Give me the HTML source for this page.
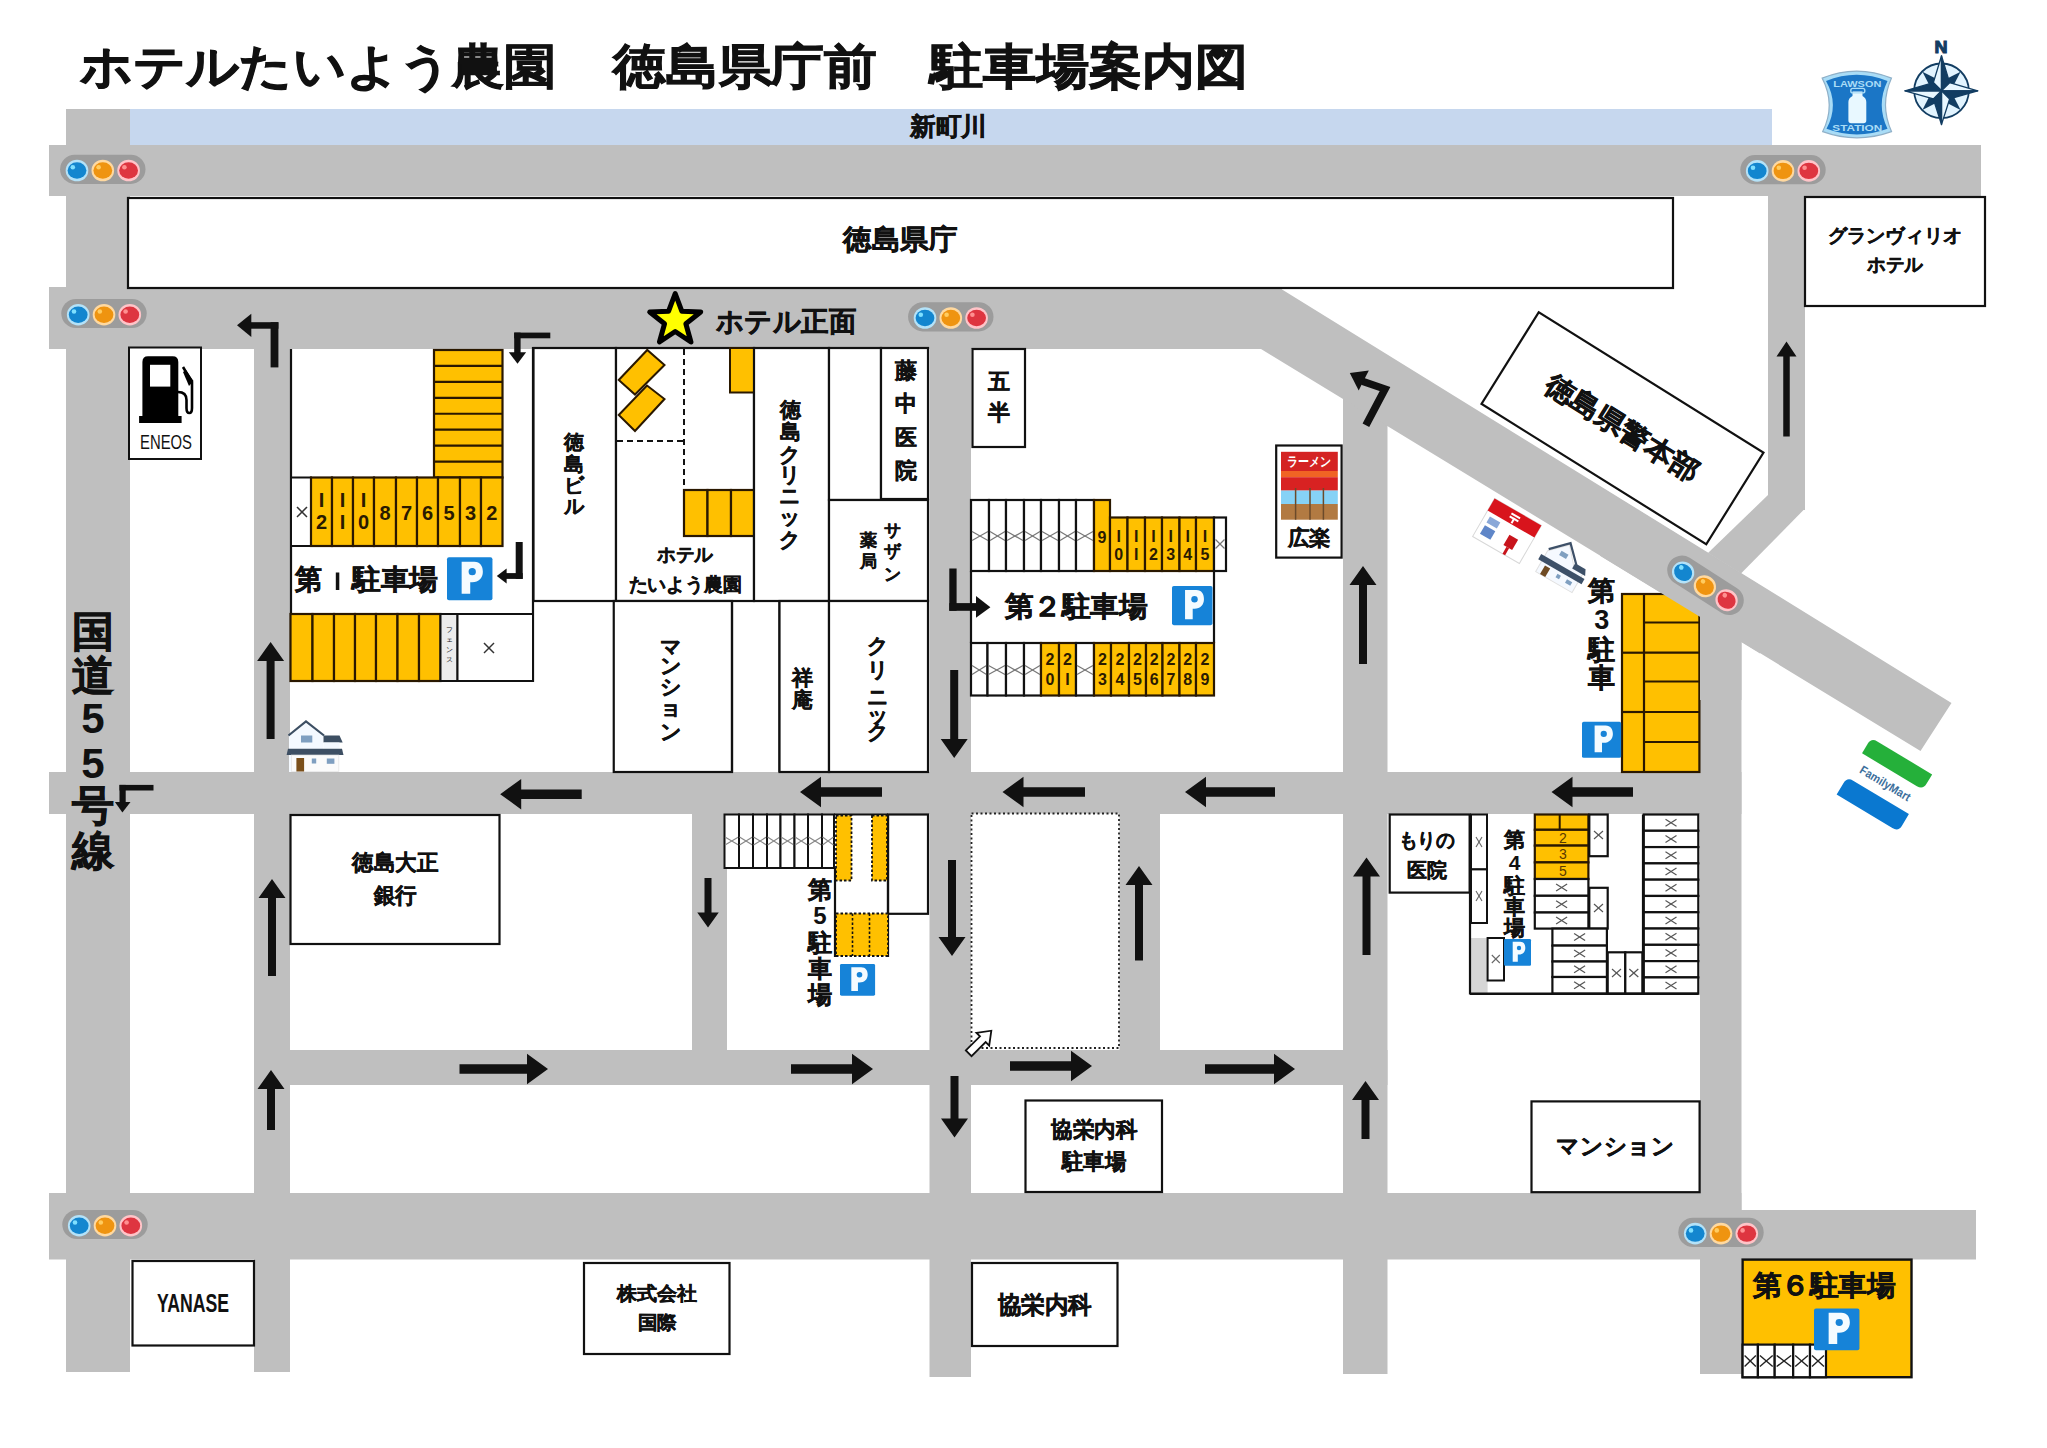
<!DOCTYPE html><html lang="ja"><head><meta charset="utf-8"><title>map</title><style>html,body{margin:0;padding:0;background:#fff;}svg{display:block;}text{font-family:"Liberation Sans",sans-serif;}</style></head><body>
<svg width="2047" height="1448" viewBox="0 0 2047 1448">
<rect x="0" y="0" width="2047" height="1448" fill="#fff" />
<rect x="130" y="109" width="1642" height="36" fill="#c6d7ee" />
<text x="948.5" y="126" font-size="25" text-anchor="middle" dominant-baseline="central" font-weight="bold" fill="#111" font-family="'Liberation Sans', sans-serif" textLength="77" lengthAdjust="spacingAndGlyphs" stroke="#111" stroke-width="0.5" >新町川</text>
<rect x="66" y="109" width="64" height="1263" fill="#bfbfbf" />
<rect x="254" y="349" width="36" height="1023" fill="#bfbfbf" />
<rect x="692" y="813" width="35" height="238" fill="#bfbfbf" />
<rect x="929.5" y="349" width="41.5" height="1028" fill="#bfbfbf" />
<rect x="1119.5" y="813" width="40.5" height="238" fill="#bfbfbf" />
<rect x="1343" y="380" width="44.5" height="994" fill="#bfbfbf" />
<rect x="1700" y="620" width="41.5" height="754" fill="#bfbfbf" />
<rect x="1768" y="180" width="37" height="330" fill="#bfbfbf" />
<rect x="49" y="145" width="1932" height="51" fill="#bfbfbf" />
<rect x="49" y="287" width="1233" height="62" fill="#bfbfbf" />
<rect x="49" y="772" width="1692.5" height="42" fill="#bfbfbf" />
<rect x="254" y="1050" width="1133.5" height="35" fill="#bfbfbf" />
<rect x="49" y="1193" width="1692.5" height="66.5" fill="#bfbfbf" />
<rect x="1741" y="1210" width="235" height="49.5" fill="#bfbfbf" />
<polygon points="1240,287 1278,287 1951.5,703 1920.5,751 1261,349 1240,349" fill="#bfbfbf" />
<polygon points="1768,495 1805,495 1805,508.5 1741,573.5 1708,553" fill="#bfbfbf" />
<text x="80" y="66" font-size="48" text-anchor="start" dominant-baseline="central" font-weight="bold" fill="#111" font-family="'Liberation Sans', sans-serif" textLength="476" lengthAdjust="spacingAndGlyphs" stroke="#111" stroke-width="0.9">ホテルたいよう農園</text>
<text x="613" y="66" font-size="48" text-anchor="start" dominant-baseline="central" font-weight="bold" fill="#111" font-family="'Liberation Sans', sans-serif" textLength="264" lengthAdjust="spacingAndGlyphs" stroke="#111" stroke-width="0.9">徳島県庁前</text>
<text x="930" y="66" font-size="48" text-anchor="start" dominant-baseline="central" font-weight="bold" fill="#111" font-family="'Liberation Sans', sans-serif" textLength="318" lengthAdjust="spacingAndGlyphs" stroke="#111" stroke-width="0.9">駐車場案内図</text>
<rect x="128" y="198" width="1545" height="90" fill="#fff" stroke="#111" stroke-width="2.2" />
<text x="900" y="239.5" font-size="28" text-anchor="middle" dominant-baseline="central" font-weight="bold" fill="#111" font-family="'Liberation Sans', sans-serif" textLength="114" lengthAdjust="spacingAndGlyphs" stroke="#111" stroke-width="0.56" >徳島県庁</text>
<rect x="1805" y="197" width="180" height="109" fill="#fff" stroke="#111" stroke-width="2.2" />
<text x="1895" y="235.5" font-size="19" text-anchor="middle" dominant-baseline="central" font-weight="bold" fill="#111" font-family="'Liberation Sans', sans-serif" textLength="134" lengthAdjust="spacingAndGlyphs" stroke="#111" stroke-width="0.38" >グランヴィリオ</text>
<text x="1895" y="264.5" font-size="19" text-anchor="middle" dominant-baseline="central" font-weight="bold" fill="#111" font-family="'Liberation Sans', sans-serif" textLength="56" lengthAdjust="spacingAndGlyphs" stroke="#111" stroke-width="0.38" >ホテル</text>
<rect x="129" y="347.5" width="72" height="111.5" fill="#fff" stroke="#111" stroke-width="2" />
<path d="M142.4,417 V362 Q142.4,356.3 148,356.3 H172.7 Q178.3,356.3 178.3,362 V417 Z" fill="#000"/>
<rect x="150" y="364.8" width="20.3" height="21.8" fill="#fff" />
<rect x="139.1" y="416" width="42.5" height="7" fill="#000" />
<path d="M178,392 Q186.5,392 186.5,400 V408 Q186.5,413 189.3,413 Q192,413 192,408 V382 L183,367" fill="none" stroke="#000" stroke-width="2.6"/>
<path d="M189,386 L193.5,381 L186,370 L183,372 Z" fill="#000"/>
<text x="166" y="441" font-size="21" text-anchor="middle" dominant-baseline="central" font-weight="normal" fill="#111" font-family="'Liberation Sans', sans-serif" textLength="52" lengthAdjust="spacingAndGlyphs" font-stretch="condensed">ENEOS</text>
<line x1="291" y1="349" x2="291" y2="682" stroke="#111" stroke-width="2.2" />
<line x1="533" y1="347" x2="533" y2="682" stroke="#111" stroke-width="2.2" />
<line x1="290" y1="681" x2="534" y2="681" stroke="#111" stroke-width="2.2" />
<line x1="290" y1="614" x2="534" y2="614" stroke="#111" stroke-width="2.2" />
<rect x="434" y="350" width="68.5" height="127.5" fill="#ffc000" stroke="#2a1800" stroke-width="2.2" />
<line x1="434" y1="365.94" x2="502.5" y2="365.94" stroke="#2a1800" stroke-width="2.2" />
<line x1="434" y1="381.88" x2="502.5" y2="381.88" stroke="#2a1800" stroke-width="2.2" />
<line x1="434" y1="397.81" x2="502.5" y2="397.81" stroke="#2a1800" stroke-width="2.2" />
<line x1="434" y1="413.75" x2="502.5" y2="413.75" stroke="#2a1800" stroke-width="2.2" />
<line x1="434" y1="429.69" x2="502.5" y2="429.69" stroke="#2a1800" stroke-width="2.2" />
<line x1="434" y1="445.62" x2="502.5" y2="445.62" stroke="#2a1800" stroke-width="2.2" />
<line x1="434" y1="461.56" x2="502.5" y2="461.56" stroke="#2a1800" stroke-width="2.2" />
<rect x="291" y="477.5" width="20" height="68.5" fill="#fff" stroke="#111" stroke-width="2" />
<line x1="297" y1="507" x2="307" y2="517" stroke="#333" stroke-width="1.5" />
<line x1="297" y1="517" x2="307" y2="507" stroke="#333" stroke-width="1.5" />
<rect x="311" y="477.5" width="21" height="68.5" fill="#ffc000" stroke="#2a1800" stroke-width="2.2" />
<text x="321.5" y="500" font-size="20" text-anchor="middle" dominant-baseline="central" font-weight="bold" fill="#2a1a00" font-family="'Liberation Sans', sans-serif" >I</text>
<text x="321.5" y="522" font-size="20" text-anchor="middle" dominant-baseline="central" font-weight="bold" fill="#2a1a00" font-family="'Liberation Sans', sans-serif" >2</text>
<rect x="332" y="477.5" width="21" height="68.5" fill="#ffc000" stroke="#2a1800" stroke-width="2.2" />
<text x="342.5" y="500" font-size="20" text-anchor="middle" dominant-baseline="central" font-weight="bold" fill="#2a1a00" font-family="'Liberation Sans', sans-serif" >I</text>
<text x="342.5" y="522" font-size="20" text-anchor="middle" dominant-baseline="central" font-weight="bold" fill="#2a1a00" font-family="'Liberation Sans', sans-serif" >I</text>
<rect x="353" y="477.5" width="21" height="68.5" fill="#ffc000" stroke="#2a1800" stroke-width="2.2" />
<text x="363.5" y="500" font-size="20" text-anchor="middle" dominant-baseline="central" font-weight="bold" fill="#2a1a00" font-family="'Liberation Sans', sans-serif" >I</text>
<text x="363.5" y="522" font-size="20" text-anchor="middle" dominant-baseline="central" font-weight="bold" fill="#2a1a00" font-family="'Liberation Sans', sans-serif" >0</text>
<rect x="374" y="477.5" width="22" height="68.5" fill="#ffc000" stroke="#2a1800" stroke-width="2.2" />
<text x="385" y="512.5" font-size="20" text-anchor="middle" dominant-baseline="central" font-weight="bold" fill="#2a1a00" font-family="'Liberation Sans', sans-serif" >8</text>
<rect x="396" y="477.5" width="21" height="68.5" fill="#ffc000" stroke="#2a1800" stroke-width="2.2" />
<text x="406.5" y="512.5" font-size="20" text-anchor="middle" dominant-baseline="central" font-weight="bold" fill="#2a1a00" font-family="'Liberation Sans', sans-serif" >7</text>
<rect x="417" y="477.5" width="21" height="68.5" fill="#ffc000" stroke="#2a1800" stroke-width="2.2" />
<text x="427.5" y="512.5" font-size="20" text-anchor="middle" dominant-baseline="central" font-weight="bold" fill="#2a1a00" font-family="'Liberation Sans', sans-serif" >6</text>
<rect x="438" y="477.5" width="22" height="68.5" fill="#ffc000" stroke="#2a1800" stroke-width="2.2" />
<text x="449" y="512.5" font-size="20" text-anchor="middle" dominant-baseline="central" font-weight="bold" fill="#2a1a00" font-family="'Liberation Sans', sans-serif" >5</text>
<rect x="460" y="477.5" width="21" height="68.5" fill="#ffc000" stroke="#2a1800" stroke-width="2.2" />
<text x="470.5" y="512.5" font-size="20" text-anchor="middle" dominant-baseline="central" font-weight="bold" fill="#2a1a00" font-family="'Liberation Sans', sans-serif" >3</text>
<rect x="481" y="477.5" width="21.5" height="68.5" fill="#ffc000" stroke="#2a1800" stroke-width="2.2" />
<text x="491.75" y="512.5" font-size="20" text-anchor="middle" dominant-baseline="central" font-weight="bold" fill="#2a1a00" font-family="'Liberation Sans', sans-serif" >2</text>
<text x="308.5" y="579" font-size="28" text-anchor="middle" dominant-baseline="central" font-weight="bold" fill="#111" font-family="'Liberation Sans', sans-serif" textLength="27" lengthAdjust="spacingAndGlyphs" stroke="#111" stroke-width="0.56" >第</text>
<rect x="335.8" y="572.5" width="3.5" height="17.5" fill="#111" />
<text x="395" y="579" font-size="28" text-anchor="middle" dominant-baseline="central" font-weight="bold" fill="#111" font-family="'Liberation Sans', sans-serif" textLength="86" lengthAdjust="spacingAndGlyphs" stroke="#111" stroke-width="0.56" >駐車場</text>
<g transform="translate(447,557.2) scale(1.01,1)"><rect x="0" y="0" width="45" height="43" rx="2" fill="#1683d8"/><path d="M14.5,4.5 H27 C33,4.5 35.5,9 35.5,14.5 C35.5,20.5 31.5,25 25,25 H23 V36.5 H14.5 Z" fill="#f4fbff"/><circle cx="25" cy="14.5" r="3.6" fill="#1683d8"/></g>
<rect x="290.5" y="614" width="22" height="67" fill="#ffc000" stroke="#2a1800" stroke-width="2.2" />
<rect x="312.5" y="614" width="21.5" height="67" fill="#ffc000" stroke="#2a1800" stroke-width="2.2" />
<rect x="334" y="614" width="21" height="67" fill="#ffc000" stroke="#2a1800" stroke-width="2.2" />
<rect x="355" y="614" width="21" height="67" fill="#ffc000" stroke="#2a1800" stroke-width="2.2" />
<rect x="376" y="614" width="21.5" height="67" fill="#ffc000" stroke="#2a1800" stroke-width="2.2" />
<rect x="397.5" y="614" width="21.5" height="67" fill="#ffc000" stroke="#2a1800" stroke-width="2.2" />
<rect x="419" y="614" width="21.5" height="67" fill="#ffc000" stroke="#2a1800" stroke-width="2.2" />
<rect x="440.5" y="614" width="17" height="67" fill="#ececec" stroke="#111" stroke-width="2" />
<text x="449" y="629" font-size="7" text-anchor="middle" dominant-baseline="central" font-weight="normal" fill="#111" font-family="'Liberation Sans', sans-serif" >フ</text>
<text x="449" y="639" font-size="7" text-anchor="middle" dominant-baseline="central" font-weight="normal" fill="#111" font-family="'Liberation Sans', sans-serif" >ェ</text>
<text x="449" y="649" font-size="7" text-anchor="middle" dominant-baseline="central" font-weight="normal" fill="#111" font-family="'Liberation Sans', sans-serif" >ン</text>
<text x="449" y="659" font-size="7" text-anchor="middle" dominant-baseline="central" font-weight="normal" fill="#111" font-family="'Liberation Sans', sans-serif" >ス</text>
<rect x="457.5" y="614" width="75.5" height="67" fill="#fff" stroke="#111" stroke-width="2" />
<line x1="484" y1="643" x2="494" y2="653" stroke="#333" stroke-width="1.5" />
<line x1="484" y1="653" x2="494" y2="643" stroke="#333" stroke-width="1.5" />
<rect x="533.5" y="348" width="82.5" height="253" fill="#fff" stroke="#111" stroke-width="2.2" />
<text x="574" y="442" font-size="20" text-anchor="middle" dominant-baseline="central" font-weight="bold" fill="#111" font-family="'Liberation Sans', sans-serif" stroke="#111" stroke-width="0.4" >徳</text>
<text x="574" y="464" font-size="20" text-anchor="middle" dominant-baseline="central" font-weight="bold" fill="#111" font-family="'Liberation Sans', sans-serif" stroke="#111" stroke-width="0.4" >島</text>
<text x="574" y="485" font-size="20" text-anchor="middle" dominant-baseline="central" font-weight="bold" fill="#111" font-family="'Liberation Sans', sans-serif" stroke="#111" stroke-width="0.4" >ビ</text>
<text x="574" y="505.5" font-size="20" text-anchor="middle" dominant-baseline="central" font-weight="bold" fill="#111" font-family="'Liberation Sans', sans-serif" stroke="#111" stroke-width="0.4" >ル</text>
<rect x="616" y="348" width="138" height="253" fill="#fff" stroke="#111" stroke-width="2.2" />
<polygon points="618.75,380 647.25,350 664.5,365 635,394.5" fill="#ffc000" stroke="#2a1800" stroke-width="2" />
<polygon points="618.75,415 647,385.5 664.5,399 635,431" fill="#ffc000" stroke="#2a1800" stroke-width="2" />
<line x1="684" y1="349" x2="684" y2="490" stroke="#111" stroke-width="2" stroke-dasharray="6,4"/>
<line x1="617" y1="441" x2="684" y2="441" stroke="#111" stroke-width="2" stroke-dasharray="6,4"/>
<rect x="730" y="348" width="24" height="44.5" fill="#ffc000" stroke="#2a1800" stroke-width="2" />
<rect x="684" y="490" width="23.5" height="46" fill="#ffc000" stroke="#2a1800" stroke-width="2.2" />
<rect x="707.5" y="490" width="23.5" height="46" fill="#ffc000" stroke="#2a1800" stroke-width="2.2" />
<rect x="731" y="490" width="23" height="46" fill="#ffc000" stroke="#2a1800" stroke-width="2.2" />
<text x="685" y="554" font-size="19" text-anchor="middle" dominant-baseline="central" font-weight="bold" fill="#111" font-family="'Liberation Sans', sans-serif" textLength="56" lengthAdjust="spacingAndGlyphs" stroke="#111" stroke-width="0.38" >ホテル</text>
<text x="685" y="584" font-size="19" text-anchor="middle" dominant-baseline="central" font-weight="bold" fill="#111" font-family="'Liberation Sans', sans-serif" textLength="113" lengthAdjust="spacingAndGlyphs" stroke="#111" stroke-width="0.38" >たいよう農園</text>
<rect x="754" y="348" width="75" height="253" fill="#fff" stroke="#111" stroke-width="2.2" />
<text x="790" y="409.5" font-size="21" text-anchor="middle" dominant-baseline="central" font-weight="bold" fill="#111" font-family="'Liberation Sans', sans-serif" stroke="#111" stroke-width="0.42" >徳</text>
<text x="790" y="431" font-size="21" text-anchor="middle" dominant-baseline="central" font-weight="bold" fill="#111" font-family="'Liberation Sans', sans-serif" stroke="#111" stroke-width="0.42" >島</text>
<text x="790" y="454" font-size="21" text-anchor="middle" dominant-baseline="central" font-weight="bold" fill="#111" font-family="'Liberation Sans', sans-serif" stroke="#111" stroke-width="0.42" >ク</text>
<text x="790" y="474" font-size="21" text-anchor="middle" dominant-baseline="central" font-weight="bold" fill="#111" font-family="'Liberation Sans', sans-serif" stroke="#111" stroke-width="0.42" >リ</text>
<text x="790" y="495.5" font-size="21" text-anchor="middle" dominant-baseline="central" font-weight="bold" fill="#111" font-family="'Liberation Sans', sans-serif" stroke="#111" stroke-width="0.42" >ニ</text>
<text x="790" y="516" font-size="21" text-anchor="middle" dominant-baseline="central" font-weight="bold" fill="#111" font-family="'Liberation Sans', sans-serif" stroke="#111" stroke-width="0.42" >ッ</text>
<text x="790" y="539.5" font-size="21" text-anchor="middle" dominant-baseline="central" font-weight="bold" fill="#111" font-family="'Liberation Sans', sans-serif" stroke="#111" stroke-width="0.42" >ク</text>
<rect x="829" y="348" width="52" height="152" fill="#fff" stroke="#111" stroke-width="2.2" />
<rect x="881" y="348" width="47" height="151" fill="#fff" stroke="#111" stroke-width="2.2" />
<text x="905.5" y="370.5" font-size="22" text-anchor="middle" dominant-baseline="central" font-weight="bold" fill="#111" font-family="'Liberation Sans', sans-serif" stroke="#111" stroke-width="0.44" >藤</text>
<text x="905.5" y="403" font-size="22" text-anchor="middle" dominant-baseline="central" font-weight="bold" fill="#111" font-family="'Liberation Sans', sans-serif" stroke="#111" stroke-width="0.44" >中</text>
<text x="905.5" y="437" font-size="22" text-anchor="middle" dominant-baseline="central" font-weight="bold" fill="#111" font-family="'Liberation Sans', sans-serif" stroke="#111" stroke-width="0.44" >医</text>
<text x="905.5" y="470" font-size="22" text-anchor="middle" dominant-baseline="central" font-weight="bold" fill="#111" font-family="'Liberation Sans', sans-serif" stroke="#111" stroke-width="0.44" >院</text>
<rect x="829" y="500" width="99" height="101" fill="#fff" stroke="#111" stroke-width="2.2" />
<text x="892" y="530" font-size="17" text-anchor="middle" dominant-baseline="central" font-weight="bold" fill="#111" font-family="'Liberation Sans', sans-serif" stroke="#111" stroke-width="0.34" >サ</text>
<text x="892" y="551" font-size="17" text-anchor="middle" dominant-baseline="central" font-weight="bold" fill="#111" font-family="'Liberation Sans', sans-serif" stroke="#111" stroke-width="0.34" >ザ</text>
<text x="892" y="574" font-size="17" text-anchor="middle" dominant-baseline="central" font-weight="bold" fill="#111" font-family="'Liberation Sans', sans-serif" stroke="#111" stroke-width="0.34" >ン</text>
<text x="868" y="540.6" font-size="17" text-anchor="middle" dominant-baseline="central" font-weight="bold" fill="#111" font-family="'Liberation Sans', sans-serif" stroke="#111" stroke-width="0.34" >薬</text>
<text x="868" y="561" font-size="17" text-anchor="middle" dominant-baseline="central" font-weight="bold" fill="#111" font-family="'Liberation Sans', sans-serif" stroke="#111" stroke-width="0.34" >局</text>
<line x1="533" y1="601" x2="929" y2="601" stroke="#111" stroke-width="2.2" />
<rect x="613.75" y="601" width="118.25" height="171" fill="#fff" stroke="#111" stroke-width="2.2" />
<text x="671" y="646" font-size="21" text-anchor="middle" dominant-baseline="central" font-weight="bold" fill="#111" font-family="'Liberation Sans', sans-serif" stroke="#111" stroke-width="0.42" >マ</text>
<text x="671" y="665" font-size="21" text-anchor="middle" dominant-baseline="central" font-weight="bold" fill="#111" font-family="'Liberation Sans', sans-serif" stroke="#111" stroke-width="0.42" >ン</text>
<text x="671" y="686" font-size="21" text-anchor="middle" dominant-baseline="central" font-weight="bold" fill="#111" font-family="'Liberation Sans', sans-serif" stroke="#111" stroke-width="0.42" >シ</text>
<text x="671" y="707.5" font-size="21" text-anchor="middle" dominant-baseline="central" font-weight="bold" fill="#111" font-family="'Liberation Sans', sans-serif" stroke="#111" stroke-width="0.42" >ョ</text>
<text x="671" y="731" font-size="21" text-anchor="middle" dominant-baseline="central" font-weight="bold" fill="#111" font-family="'Liberation Sans', sans-serif" stroke="#111" stroke-width="0.42" >ン</text>
<line x1="732" y1="601" x2="732" y2="772" stroke="#111" stroke-width="2.2" />
<line x1="779.5" y1="601" x2="779.5" y2="772" stroke="#111" stroke-width="2.2" />
<rect x="779.5" y="601" width="49.5" height="171" fill="#fff" stroke="#111" stroke-width="2.2" />
<text x="802.5" y="677" font-size="21" text-anchor="middle" dominant-baseline="central" font-weight="bold" fill="#111" font-family="'Liberation Sans', sans-serif" stroke="#111" stroke-width="0.42" >祥</text>
<text x="802.5" y="699.5" font-size="21" text-anchor="middle" dominant-baseline="central" font-weight="bold" fill="#111" font-family="'Liberation Sans', sans-serif" stroke="#111" stroke-width="0.42" >庵</text>
<rect x="829" y="601" width="99" height="171" fill="#fff" stroke="#111" stroke-width="2.2" />
<text x="877.5" y="645.5" font-size="21" text-anchor="middle" dominant-baseline="central" font-weight="bold" fill="#111" font-family="'Liberation Sans', sans-serif" stroke="#111" stroke-width="0.42" >ク</text>
<text x="877.5" y="669" font-size="21" text-anchor="middle" dominant-baseline="central" font-weight="bold" fill="#111" font-family="'Liberation Sans', sans-serif" stroke="#111" stroke-width="0.42" >リ</text>
<text x="877.5" y="696" font-size="21" text-anchor="middle" dominant-baseline="central" font-weight="bold" fill="#111" font-family="'Liberation Sans', sans-serif" stroke="#111" stroke-width="0.42" >ニ</text>
<text x="877.5" y="714" font-size="21" text-anchor="middle" dominant-baseline="central" font-weight="bold" fill="#111" font-family="'Liberation Sans', sans-serif" stroke="#111" stroke-width="0.42" >ッ</text>
<text x="877.5" y="731" font-size="21" text-anchor="middle" dominant-baseline="central" font-weight="bold" fill="#111" font-family="'Liberation Sans', sans-serif" stroke="#111" stroke-width="0.42" >ク</text>
<polygon points="675.2,293.5 681.78,311.24 700.69,312.02 685.85,323.76 690.95,341.98 675.2,331.5 659.45,341.98 664.55,323.76 649.71,312.02 668.62,311.24" fill="#ffff00" stroke="#000" stroke-width="5" stroke-linejoin="round"/>
<text x="786" y="321.5" font-size="28" text-anchor="middle" dominant-baseline="central" font-weight="bold" fill="#111" font-family="'Liberation Sans', sans-serif" textLength="140" lengthAdjust="spacingAndGlyphs" stroke="#111" stroke-width="0.56" >ホテル正面</text>
<rect x="972.5" y="349" width="52.5" height="98" fill="#fff" stroke="#111" stroke-width="2.2" />
<text x="999" y="381" font-size="22" text-anchor="middle" dominant-baseline="central" font-weight="bold" fill="#111" font-family="'Liberation Sans', sans-serif" stroke="#111" stroke-width="0.44" >五</text>
<text x="999" y="412.5" font-size="22" text-anchor="middle" dominant-baseline="central" font-weight="bold" fill="#111" font-family="'Liberation Sans', sans-serif" stroke="#111" stroke-width="0.44" >半</text>
<rect x="971" y="500" width="18" height="71" fill="#fff" stroke="#111" stroke-width="2.2" />
<line x1="972" y1="531.5" x2="988" y2="540.5" stroke="#777" stroke-width="1.2" />
<line x1="972" y1="540.5" x2="988" y2="531.5" stroke="#777" stroke-width="1.2" />
<rect x="989" y="500" width="17" height="71" fill="#fff" stroke="#111" stroke-width="2.2" />
<line x1="990" y1="531.5" x2="1005" y2="540.5" stroke="#777" stroke-width="1.2" />
<line x1="990" y1="540.5" x2="1005" y2="531.5" stroke="#777" stroke-width="1.2" />
<rect x="1006" y="500" width="18" height="71" fill="#fff" stroke="#111" stroke-width="2.2" />
<line x1="1007" y1="531.5" x2="1023" y2="540.5" stroke="#777" stroke-width="1.2" />
<line x1="1007" y1="540.5" x2="1023" y2="531.5" stroke="#777" stroke-width="1.2" />
<rect x="1024" y="500" width="17" height="71" fill="#fff" stroke="#111" stroke-width="2.2" />
<line x1="1025" y1="531.5" x2="1040" y2="540.5" stroke="#777" stroke-width="1.2" />
<line x1="1025" y1="540.5" x2="1040" y2="531.5" stroke="#777" stroke-width="1.2" />
<rect x="1041" y="500" width="18" height="71" fill="#fff" stroke="#111" stroke-width="2.2" />
<line x1="1042" y1="531.5" x2="1058" y2="540.5" stroke="#777" stroke-width="1.2" />
<line x1="1042" y1="540.5" x2="1058" y2="531.5" stroke="#777" stroke-width="1.2" />
<rect x="1059" y="500" width="17" height="71" fill="#fff" stroke="#111" stroke-width="2.2" />
<line x1="1060" y1="531.5" x2="1075" y2="540.5" stroke="#777" stroke-width="1.2" />
<line x1="1060" y1="540.5" x2="1075" y2="531.5" stroke="#777" stroke-width="1.2" />
<rect x="1076" y="500" width="18" height="71" fill="#fff" stroke="#111" stroke-width="2.2" />
<line x1="1077" y1="531.5" x2="1093" y2="540.5" stroke="#777" stroke-width="1.2" />
<line x1="1077" y1="540.5" x2="1093" y2="531.5" stroke="#777" stroke-width="1.2" />
<rect x="1094" y="500" width="16" height="71" fill="#ffc000" stroke="#2a1800" stroke-width="2.2" />
<text x="1102" y="537.5" font-size="16" text-anchor="middle" dominant-baseline="central" font-weight="bold" fill="#2a1a00" font-family="'Liberation Sans', sans-serif" >9</text>
<rect x="1110" y="517.5" width="17.5" height="53.5" fill="#ffc000" stroke="#2a1800" stroke-width="2.2" />
<text x="1118.75" y="536" font-size="16" text-anchor="middle" dominant-baseline="central" font-weight="bold" fill="#2a1a00" font-family="'Liberation Sans', sans-serif" >I</text>
<text x="1118.75" y="554" font-size="16" text-anchor="middle" dominant-baseline="central" font-weight="bold" fill="#2a1a00" font-family="'Liberation Sans', sans-serif" >0</text>
<rect x="1127.5" y="517.5" width="17.5" height="53.5" fill="#ffc000" stroke="#2a1800" stroke-width="2.2" />
<text x="1136.25" y="536" font-size="16" text-anchor="middle" dominant-baseline="central" font-weight="bold" fill="#2a1a00" font-family="'Liberation Sans', sans-serif" >I</text>
<text x="1136.25" y="554" font-size="16" text-anchor="middle" dominant-baseline="central" font-weight="bold" fill="#2a1a00" font-family="'Liberation Sans', sans-serif" >I</text>
<rect x="1145" y="517.5" width="17" height="53.5" fill="#ffc000" stroke="#2a1800" stroke-width="2.2" />
<text x="1153.5" y="536" font-size="16" text-anchor="middle" dominant-baseline="central" font-weight="bold" fill="#2a1a00" font-family="'Liberation Sans', sans-serif" >I</text>
<text x="1153.5" y="554" font-size="16" text-anchor="middle" dominant-baseline="central" font-weight="bold" fill="#2a1a00" font-family="'Liberation Sans', sans-serif" >2</text>
<rect x="1162" y="517.5" width="17.5" height="53.5" fill="#ffc000" stroke="#2a1800" stroke-width="2.2" />
<text x="1170.75" y="536" font-size="16" text-anchor="middle" dominant-baseline="central" font-weight="bold" fill="#2a1a00" font-family="'Liberation Sans', sans-serif" >I</text>
<text x="1170.75" y="554" font-size="16" text-anchor="middle" dominant-baseline="central" font-weight="bold" fill="#2a1a00" font-family="'Liberation Sans', sans-serif" >3</text>
<rect x="1179.5" y="517.5" width="16.5" height="53.5" fill="#ffc000" stroke="#2a1800" stroke-width="2.2" />
<text x="1187.75" y="536" font-size="16" text-anchor="middle" dominant-baseline="central" font-weight="bold" fill="#2a1a00" font-family="'Liberation Sans', sans-serif" >I</text>
<text x="1187.75" y="554" font-size="16" text-anchor="middle" dominant-baseline="central" font-weight="bold" fill="#2a1a00" font-family="'Liberation Sans', sans-serif" >4</text>
<rect x="1196" y="517.5" width="18" height="53.5" fill="#ffc000" stroke="#2a1800" stroke-width="2.2" />
<text x="1205" y="536" font-size="16" text-anchor="middle" dominant-baseline="central" font-weight="bold" fill="#2a1a00" font-family="'Liberation Sans', sans-serif" >I</text>
<text x="1205" y="554" font-size="16" text-anchor="middle" dominant-baseline="central" font-weight="bold" fill="#2a1a00" font-family="'Liberation Sans', sans-serif" >5</text>
<rect x="1214" y="517.5" width="12" height="53.5" fill="#fff" stroke="#111" stroke-width="2.2" />
<line x1="1215.5" y1="539.5" x2="1224.5" y2="548.5" stroke="#777" stroke-width="1.2" />
<line x1="1215.5" y1="548.5" x2="1224.5" y2="539.5" stroke="#777" stroke-width="1.2" />
<line x1="971" y1="571" x2="971" y2="643" stroke="#111" stroke-width="2.2" />
<line x1="1214" y1="571" x2="1214" y2="643" stroke="#111" stroke-width="2.2" />
<text x="1076" y="606" font-size="28" text-anchor="middle" dominant-baseline="central" font-weight="bold" fill="#111" font-family="'Liberation Sans', sans-serif" textLength="143" lengthAdjust="spacingAndGlyphs" stroke="#111" stroke-width="0.56" >第２駐車場</text>
<g transform="translate(1172,586) scale(0.9,0.91)"><rect x="0" y="0" width="45" height="43" rx="2" fill="#1683d8"/><path d="M14.5,4.5 H27 C33,4.5 35.5,9 35.5,14.5 C35.5,20.5 31.5,25 25,25 H23 V36.5 H14.5 Z" fill="#f4fbff"/><circle cx="25" cy="14.5" r="3.6" fill="#1683d8"/></g>
<rect x="971" y="643" width="16.5" height="52.5" fill="#fff" stroke="#111" stroke-width="2.2" />
<line x1="972" y1="665.5" x2="986.5" y2="674.5" stroke="#777" stroke-width="1.2" />
<line x1="972" y1="674.5" x2="986.5" y2="665.5" stroke="#777" stroke-width="1.2" />
<rect x="987.5" y="643" width="18.5" height="52.5" fill="#fff" stroke="#111" stroke-width="2.2" />
<line x1="988.5" y1="665.5" x2="1005" y2="674.5" stroke="#777" stroke-width="1.2" />
<line x1="988.5" y1="674.5" x2="1005" y2="665.5" stroke="#777" stroke-width="1.2" />
<rect x="1006" y="643" width="18" height="52.5" fill="#fff" stroke="#111" stroke-width="2.2" />
<line x1="1007" y1="665.5" x2="1023" y2="674.5" stroke="#777" stroke-width="1.2" />
<line x1="1007" y1="674.5" x2="1023" y2="665.5" stroke="#777" stroke-width="1.2" />
<rect x="1024" y="643" width="17" height="52.5" fill="#fff" stroke="#111" stroke-width="2.2" />
<line x1="1025" y1="665.5" x2="1040" y2="674.5" stroke="#777" stroke-width="1.2" />
<line x1="1025" y1="674.5" x2="1040" y2="665.5" stroke="#777" stroke-width="1.2" />
<rect x="1041" y="643" width="18" height="52.5" fill="#ffc000" stroke="#2a1800" stroke-width="2.2" />
<text x="1050" y="659" font-size="16" text-anchor="middle" dominant-baseline="central" font-weight="bold" fill="#2a1a00" font-family="'Liberation Sans', sans-serif" >2</text>
<text x="1050" y="679" font-size="16" text-anchor="middle" dominant-baseline="central" font-weight="bold" fill="#2a1a00" font-family="'Liberation Sans', sans-serif" >0</text>
<rect x="1059" y="643" width="17" height="52.5" fill="#ffc000" stroke="#2a1800" stroke-width="2.2" />
<text x="1067.5" y="659" font-size="16" text-anchor="middle" dominant-baseline="central" font-weight="bold" fill="#2a1a00" font-family="'Liberation Sans', sans-serif" >2</text>
<text x="1067.5" y="679" font-size="16" text-anchor="middle" dominant-baseline="central" font-weight="bold" fill="#2a1a00" font-family="'Liberation Sans', sans-serif" >I</text>
<rect x="1076" y="643" width="18" height="52.5" fill="#fff" stroke="#111" stroke-width="2.2" />
<line x1="1077" y1="665.5" x2="1093" y2="674.5" stroke="#777" stroke-width="1.2" />
<line x1="1077" y1="674.5" x2="1093" y2="665.5" stroke="#777" stroke-width="1.2" />
<rect x="1094" y="643" width="17" height="52.5" fill="#ffc000" stroke="#2a1800" stroke-width="2.2" />
<text x="1102.5" y="659" font-size="16" text-anchor="middle" dominant-baseline="central" font-weight="bold" fill="#2a1a00" font-family="'Liberation Sans', sans-serif" >2</text>
<text x="1102.5" y="679" font-size="16" text-anchor="middle" dominant-baseline="central" font-weight="bold" fill="#2a1a00" font-family="'Liberation Sans', sans-serif" >3</text>
<rect x="1111" y="643" width="18" height="52.5" fill="#ffc000" stroke="#2a1800" stroke-width="2.2" />
<text x="1120" y="659" font-size="16" text-anchor="middle" dominant-baseline="central" font-weight="bold" fill="#2a1a00" font-family="'Liberation Sans', sans-serif" >2</text>
<text x="1120" y="679" font-size="16" text-anchor="middle" dominant-baseline="central" font-weight="bold" fill="#2a1a00" font-family="'Liberation Sans', sans-serif" >4</text>
<rect x="1129" y="643" width="17" height="52.5" fill="#ffc000" stroke="#2a1800" stroke-width="2.2" />
<text x="1137.5" y="659" font-size="16" text-anchor="middle" dominant-baseline="central" font-weight="bold" fill="#2a1a00" font-family="'Liberation Sans', sans-serif" >2</text>
<text x="1137.5" y="679" font-size="16" text-anchor="middle" dominant-baseline="central" font-weight="bold" fill="#2a1a00" font-family="'Liberation Sans', sans-serif" >5</text>
<rect x="1146" y="643" width="16.5" height="52.5" fill="#ffc000" stroke="#2a1800" stroke-width="2.2" />
<text x="1154.25" y="659" font-size="16" text-anchor="middle" dominant-baseline="central" font-weight="bold" fill="#2a1a00" font-family="'Liberation Sans', sans-serif" >2</text>
<text x="1154.25" y="679" font-size="16" text-anchor="middle" dominant-baseline="central" font-weight="bold" fill="#2a1a00" font-family="'Liberation Sans', sans-serif" >6</text>
<rect x="1162.5" y="643" width="17" height="52.5" fill="#ffc000" stroke="#2a1800" stroke-width="2.2" />
<text x="1171" y="659" font-size="16" text-anchor="middle" dominant-baseline="central" font-weight="bold" fill="#2a1a00" font-family="'Liberation Sans', sans-serif" >2</text>
<text x="1171" y="679" font-size="16" text-anchor="middle" dominant-baseline="central" font-weight="bold" fill="#2a1a00" font-family="'Liberation Sans', sans-serif" >7</text>
<rect x="1179.5" y="643" width="16.5" height="52.5" fill="#ffc000" stroke="#2a1800" stroke-width="2.2" />
<text x="1187.75" y="659" font-size="16" text-anchor="middle" dominant-baseline="central" font-weight="bold" fill="#2a1a00" font-family="'Liberation Sans', sans-serif" >2</text>
<text x="1187.75" y="679" font-size="16" text-anchor="middle" dominant-baseline="central" font-weight="bold" fill="#2a1a00" font-family="'Liberation Sans', sans-serif" >8</text>
<rect x="1196" y="643" width="18" height="52.5" fill="#ffc000" stroke="#2a1800" stroke-width="2.2" />
<text x="1205" y="659" font-size="16" text-anchor="middle" dominant-baseline="central" font-weight="bold" fill="#2a1a00" font-family="'Liberation Sans', sans-serif" >2</text>
<text x="1205" y="679" font-size="16" text-anchor="middle" dominant-baseline="central" font-weight="bold" fill="#2a1a00" font-family="'Liberation Sans', sans-serif" >9</text>
<rect x="1276.2" y="445.5" width="65.4" height="112.1" fill="#fff" stroke="#111" stroke-width="2.2" />
<rect x="1281" y="451.8" width="56.8" height="19.2" fill="#d42323" />
<text x="1309" y="461.5" font-size="12.5" text-anchor="middle" dominant-baseline="central" font-weight="bold" fill="#fff" font-family="'Liberation Sans', sans-serif" textLength="44" lengthAdjust="spacingAndGlyphs" >ラーメン</text>
<rect x="1281" y="471" width="56.8" height="6.2" fill="#f06424" />
<rect x="1281" y="477.2" width="56.8" height="13.4" fill="#d82222" />
<rect x="1281" y="490.6" width="56.8" height="13.4" fill="#86d2f6" />
<rect x="1281" y="504" width="56.8" height="15.7" fill="#b27a42" />
<line x1="1295.6" y1="488" x2="1295.6" y2="519.7" stroke="#6b4a2a" stroke-width="1.5" />
<line x1="1310" y1="488" x2="1310" y2="519.7" stroke="#6b4a2a" stroke-width="1.5" />
<line x1="1323.4" y1="488" x2="1323.4" y2="519.7" stroke="#6b4a2a" stroke-width="1.5" />
<text x="1309" y="537" font-size="21" text-anchor="middle" dominant-baseline="central" font-weight="bold" fill="#111" font-family="'Liberation Sans', sans-serif" textLength="43" lengthAdjust="spacingAndGlyphs" stroke="#111" stroke-width="0.42" >広楽</text>
<g transform="translate(1622.5,428.3) rotate(32)">
<rect x="-132.5" y="-54" width="265" height="108" fill="#fff" stroke="#111" stroke-width="2.2" />
<text x="0" y="0" font-size="28" text-anchor="middle" dominant-baseline="central" font-weight="bold" fill="#111" font-family="'Liberation Sans', sans-serif" textLength="176" lengthAdjust="spacingAndGlyphs" stroke="#111" stroke-width="0.56" >徳島県警本部</text>
</g>
<rect x="1622" y="594" width="77.4" height="178" fill="#ffc000" stroke="#2a1800" stroke-width="2.2" />
<line x1="1644" y1="594" x2="1644" y2="772" stroke="#2a1800" stroke-width="2.2" />
<line x1="1644" y1="622.5" x2="1699.4" y2="622.5" stroke="#2a1800" stroke-width="2.2" />
<line x1="1644" y1="652.7" x2="1699.4" y2="652.7" stroke="#2a1800" stroke-width="2.2" />
<line x1="1644" y1="681.5" x2="1699.4" y2="681.5" stroke="#2a1800" stroke-width="2.2" />
<line x1="1644" y1="712" x2="1699.4" y2="712" stroke="#2a1800" stroke-width="2.2" />
<line x1="1644" y1="742" x2="1699.4" y2="742" stroke="#2a1800" stroke-width="2.2" />
<line x1="1622" y1="652.7" x2="1644" y2="652.7" stroke="#2a1800" stroke-width="2.2" />
<line x1="1622" y1="712" x2="1644" y2="712" stroke="#2a1800" stroke-width="2.2" />
<polygon points="1600,486.7 1760,585.4 1760,653.4 1600,555.8" fill="#bfbfbf" />
<rect x="1700" y="600" width="41.5" height="100" fill="#bfbfbf" />
<g transform="translate(1582,721.7) scale(0.87,0.84)"><rect x="0" y="0" width="45" height="43" rx="2" fill="#1683d8"/><path d="M14.5,4.5 H27 C33,4.5 35.5,9 35.5,14.5 C35.5,20.5 31.5,25 25,25 H23 V36.5 H14.5 Z" fill="#f4fbff"/><circle cx="25" cy="14.5" r="3.6" fill="#1683d8"/></g>
<text x="1601.7" y="591" font-size="27" text-anchor="middle" dominant-baseline="central" font-weight="bold" fill="#111" font-family="'Liberation Sans', sans-serif" stroke="#111" stroke-width="0.54" >第</text>
<text x="1601.7" y="620" font-size="27" text-anchor="middle" dominant-baseline="central" font-weight="bold" fill="#111" font-family="'Liberation Sans', sans-serif" >3</text>
<text x="1601.7" y="649.5" font-size="27" text-anchor="middle" dominant-baseline="central" font-weight="bold" fill="#111" font-family="'Liberation Sans', sans-serif" stroke="#111" stroke-width="0.54" >駐</text>
<text x="1601.7" y="678" font-size="27" text-anchor="middle" dominant-baseline="central" font-weight="bold" fill="#111" font-family="'Liberation Sans', sans-serif" stroke="#111" stroke-width="0.54" >車</text>
<g transform="translate(1507,531) rotate(30)"><rect x="-27" y="-22" width="54" height="44" fill="#fff" stroke="#d8d8d8" stroke-width="1"/><rect x="-27" y="-22" width="54" height="14" fill="#d8141c"/><rect x="-5" y="-18.5" width="10" height="2" fill="#fff"/><rect x="-5" y="-15" width="10" height="2" fill="#fff"/><rect x="-1" y="-15" width="2" height="6" fill="#fff"/><rect x="-22" y="-4" width="12" height="7" fill="#8aa8d8"/><rect x="-22" y="6" width="12" height="10" fill="#5f86c8"/><rect x="4" y="2" width="10" height="12" fill="#c8141c"/><rect x="7.5" y="14" width="3" height="8" fill="#c8141c"/></g>
<g transform="translate(1562,566) rotate(30)"><polygon points="-20,-6 -4,-22 10,-6 22,-6 22,18 -20,18" fill="#f5f9ff" stroke="#e0e0e0" stroke-width="1"/><polyline points="-20,-8 -4,-24 12,-8" fill="none" stroke="#3d5068" stroke-width="2.2"/><polygon points="10,-9 22,-9 25,-3 10,-3" fill="#3d5068"/><rect x="-24" y="0" width="50" height="6" fill="#3d5068"/><rect x="-8" y="-13" width="8" height="5" fill="#7f9fc0"/><rect x="-15" y="8" width="6" height="10" fill="#6e4a22"/><rect x="0" y="9" width="4" height="4" fill="#7f9fc0"/><rect x="11" y="9" width="6" height="4" fill="#7f9fc0"/></g>
<g><polygon points="289,736 306,722 323,736 323,772 289,772" fill="#f4f9ff"/><polyline points="288.5,735.5 306,721.5 324,735.5" fill="none" stroke="#3d4f63" stroke-width="2.2"/><polygon points="323.5,735.5 339.5,735.5 342.7,742.5 323.5,742.5" fill="#3d4f63"/><rect x="323.5" y="742.5" width="16" height="6" fill="#f4f9ff"/><rect x="301" y="735.5" width="11.3" height="7" fill="#7f9fc0"/><polygon points="288,748.7 342,748.7 343.5,755.1 286.6,755.1" fill="#3d4f63"/><rect x="291.5" y="755.1" width="47.3" height="16.5" fill="#fbfbfb" stroke="#e6e6e6" stroke-width="0.8"/><rect x="296.4" y="758" width="7.7" height="13.5" fill="#7a4f1a"/><rect x="311.8" y="758.5" width="4.4" height="5" fill="#7f9fc0"/><rect x="326.8" y="758.5" width="7.6" height="5.3" fill="#7f9fc0"/></g>
<rect x="290.5" y="815" width="209" height="129" fill="#fff" stroke="#111" stroke-width="2.2" />
<text x="395" y="862" font-size="22" text-anchor="middle" dominant-baseline="central" font-weight="bold" fill="#111" font-family="'Liberation Sans', sans-serif" textLength="86" lengthAdjust="spacingAndGlyphs" stroke="#111" stroke-width="0.44" >徳島大正</text>
<text x="395" y="895" font-size="22" text-anchor="middle" dominant-baseline="central" font-weight="bold" fill="#111" font-family="'Liberation Sans', sans-serif" textLength="43" lengthAdjust="spacingAndGlyphs" stroke="#111" stroke-width="0.44" >銀行</text>
<rect x="724.5" y="814.5" width="14.5" height="53.5" fill="#fff" stroke="#111" stroke-width="2" />
<line x1="725" y1="837" x2="738.5" y2="845" stroke="#888" stroke-width="1.1" />
<line x1="725" y1="845" x2="738.5" y2="837" stroke="#888" stroke-width="1.1" />
<rect x="739" y="814.5" width="14" height="53.5" fill="#fff" stroke="#111" stroke-width="2" />
<line x1="739.5" y1="837" x2="752.5" y2="845" stroke="#888" stroke-width="1.1" />
<line x1="739.5" y1="845" x2="752.5" y2="837" stroke="#888" stroke-width="1.1" />
<rect x="753" y="814.5" width="14" height="53.5" fill="#fff" stroke="#111" stroke-width="2" />
<line x1="753.5" y1="837" x2="766.5" y2="845" stroke="#888" stroke-width="1.1" />
<line x1="753.5" y1="845" x2="766.5" y2="837" stroke="#888" stroke-width="1.1" />
<rect x="767" y="814.5" width="13.5" height="53.5" fill="#fff" stroke="#111" stroke-width="2" />
<line x1="767.5" y1="837" x2="780" y2="845" stroke="#888" stroke-width="1.1" />
<line x1="767.5" y1="845" x2="780" y2="837" stroke="#888" stroke-width="1.1" />
<rect x="780.5" y="814.5" width="14" height="53.5" fill="#fff" stroke="#111" stroke-width="2" />
<line x1="781" y1="837" x2="794" y2="845" stroke="#888" stroke-width="1.1" />
<line x1="781" y1="845" x2="794" y2="837" stroke="#888" stroke-width="1.1" />
<rect x="794.5" y="814.5" width="13.5" height="53.5" fill="#fff" stroke="#111" stroke-width="2" />
<line x1="795" y1="837" x2="807.5" y2="845" stroke="#888" stroke-width="1.1" />
<line x1="795" y1="845" x2="807.5" y2="837" stroke="#888" stroke-width="1.1" />
<rect x="808" y="814.5" width="14" height="53.5" fill="#fff" stroke="#111" stroke-width="2" />
<line x1="808.5" y1="837" x2="821.5" y2="845" stroke="#888" stroke-width="1.1" />
<line x1="808.5" y1="845" x2="821.5" y2="837" stroke="#888" stroke-width="1.1" />
<rect x="822" y="814.5" width="12" height="53.5" fill="#fff" stroke="#111" stroke-width="2" />
<line x1="822.5" y1="837" x2="833.5" y2="845" stroke="#888" stroke-width="1.1" />
<line x1="822.5" y1="845" x2="833.5" y2="837" stroke="#888" stroke-width="1.1" />
<rect x="888" y="814.5" width="40" height="99.3" fill="#fff" stroke="#111" stroke-width="2.2" />
<line x1="834" y1="814.5" x2="888" y2="814.5" stroke="#111" stroke-width="2.2" />
<line x1="835" y1="868" x2="835" y2="957" stroke="#111" stroke-width="2.2" />
<line x1="888" y1="814.5" x2="888" y2="957" stroke="#111" stroke-width="2.2" />
<rect x="836" y="815.5" width="15.5" height="65" fill="#ffc000" stroke="#111" stroke-width="1.8" stroke-dasharray="2.5,2"/>
<rect x="872" y="815.5" width="15" height="65" fill="#ffc000" stroke="#111" stroke-width="1.8" stroke-dasharray="2.5,2"/>
<rect x="836" y="913.5" width="52" height="42.5" fill="#ffc000" stroke="#111" stroke-width="1.8" stroke-dasharray="2.5,2"/>
<line x1="852.5" y1="913.5" x2="852.5" y2="956" stroke="#111" stroke-width="1.6" stroke-dasharray="2.5,2"/>
<line x1="869.5" y1="913.5" x2="869.5" y2="956" stroke="#111" stroke-width="1.6" stroke-dasharray="2.5,2"/>
<text x="820" y="889" font-size="24" text-anchor="middle" dominant-baseline="central" font-weight="bold" fill="#111" font-family="'Liberation Sans', sans-serif" stroke="#111" stroke-width="0.48" >第</text>
<text x="820" y="915.5" font-size="24" text-anchor="middle" dominant-baseline="central" font-weight="bold" fill="#111" font-family="'Liberation Sans', sans-serif" >5</text>
<text x="820" y="942" font-size="24" text-anchor="middle" dominant-baseline="central" font-weight="bold" fill="#111" font-family="'Liberation Sans', sans-serif" stroke="#111" stroke-width="0.48" >駐</text>
<text x="820" y="968" font-size="24" text-anchor="middle" dominant-baseline="central" font-weight="bold" fill="#111" font-family="'Liberation Sans', sans-serif" stroke="#111" stroke-width="0.48" >車</text>
<text x="820" y="994.5" font-size="24" text-anchor="middle" dominant-baseline="central" font-weight="bold" fill="#111" font-family="'Liberation Sans', sans-serif" stroke="#111" stroke-width="0.48" >場</text>
<g transform="translate(840,964) scale(0.78,0.74)"><rect x="0" y="0" width="45" height="43" rx="2" fill="#1683d8"/><path d="M14.5,4.5 H27 C33,4.5 35.5,9 35.5,14.5 C35.5,20.5 31.5,25 25,25 H23 V36.5 H14.5 Z" fill="#f4fbff"/><circle cx="25" cy="14.5" r="3.6" fill="#1683d8"/></g>
<rect x="971.5" y="813.5" width="147.5" height="234.5" fill="#fff" stroke="#222" stroke-width="1.8" stroke-dasharray="2,2.5"/>
<g transform="translate(980,1042) rotate(-45)"><polygon points="-16,-4 4,-4 4,-9 16,0 4,9 4,4 -16,4" fill="#fff" stroke="#111" stroke-width="1.8" stroke-linejoin="miter"/></g>
<rect x="1389.7" y="814.5" width="80" height="78.1" fill="#fff" stroke="#111" stroke-width="2.2" />
<text x="1426.6" y="840.4" font-size="20" text-anchor="middle" dominant-baseline="central" font-weight="bold" fill="#111" font-family="'Liberation Sans', sans-serif" textLength="56" lengthAdjust="spacingAndGlyphs" stroke="#111" stroke-width="0.4" >もりの</text>
<text x="1426.6" y="870.3" font-size="20" text-anchor="middle" dominant-baseline="central" font-weight="bold" fill="#111" font-family="'Liberation Sans', sans-serif" textLength="40" lengthAdjust="spacingAndGlyphs" stroke="#111" stroke-width="0.4" >医院</text>
<rect x="1470.6" y="938" width="17" height="55.7" fill="#d6d6d6" />
<line x1="1470" y1="814.5" x2="1470" y2="994.5" stroke="#111" stroke-width="2.2" />
<rect x="1471" y="814.5" width="16" height="54.9" fill="#fff" stroke="#111" stroke-width="2" />
<line x1="1476" y1="837" x2="1482" y2="847" stroke="#666" stroke-width="1.1" />
<line x1="1476" y1="847" x2="1482" y2="837" stroke="#666" stroke-width="1.1" />
<rect x="1471" y="869.4" width="16" height="53.6" fill="#fff" stroke="#111" stroke-width="2" />
<line x1="1476" y1="891" x2="1482" y2="901" stroke="#666" stroke-width="1.1" />
<line x1="1476" y1="901" x2="1482" y2="891" stroke="#666" stroke-width="1.1" />
<rect x="1487.6" y="938" width="16.4" height="42.5" fill="#fff" stroke="#111" stroke-width="2" />
<line x1="1491.8" y1="955" x2="1499.8" y2="963" stroke="#666" stroke-width="1.1" />
<line x1="1491.8" y1="963" x2="1499.8" y2="955" stroke="#666" stroke-width="1.1" />
<text x="1514.5" y="839.5" font-size="21" text-anchor="middle" dominant-baseline="central" font-weight="bold" fill="#111" font-family="'Liberation Sans', sans-serif" stroke="#111" stroke-width="0.42" >第</text>
<text x="1514.5" y="862" font-size="21" text-anchor="middle" dominant-baseline="central" font-weight="bold" fill="#111" font-family="'Liberation Sans', sans-serif" >4</text>
<text x="1514.5" y="885" font-size="21" text-anchor="middle" dominant-baseline="central" font-weight="bold" fill="#111" font-family="'Liberation Sans', sans-serif" stroke="#111" stroke-width="0.42" >駐</text>
<text x="1514.5" y="906.8" font-size="21" text-anchor="middle" dominant-baseline="central" font-weight="bold" fill="#111" font-family="'Liberation Sans', sans-serif" stroke="#111" stroke-width="0.42" >車</text>
<text x="1514.5" y="927.4" font-size="21" text-anchor="middle" dominant-baseline="central" font-weight="bold" fill="#111" font-family="'Liberation Sans', sans-serif" stroke="#111" stroke-width="0.42" >場</text>
<g transform="translate(1504,939) scale(0.6,0.62)"><rect x="0" y="0" width="45" height="43" rx="2" fill="#1683d8"/><path d="M14.5,4.5 H27 C33,4.5 35.5,9 35.5,14.5 C35.5,20.5 31.5,25 25,25 H23 V36.5 H14.5 Z" fill="#f4fbff"/><circle cx="25" cy="14.5" r="3.6" fill="#1683d8"/></g>
<rect x="1534.8" y="814.5" width="53.6" height="15.3" fill="#ffc000" stroke="#2a1800" stroke-width="2.2" />
<rect x="1534.8" y="829.8" width="53.6" height="15.8" fill="#ffc000" stroke="#2a1800" stroke-width="2.2" />
<rect x="1534.8" y="845.6" width="53.6" height="16.8" fill="#ffc000" stroke="#2a1800" stroke-width="2.2" />
<rect x="1534.8" y="862.4" width="53.6" height="16.6" fill="#ffc000" stroke="#2a1800" stroke-width="2.2" />
<line x1="1559.7" y1="814.5" x2="1559.7" y2="829.8" stroke="#2a1800" stroke-width="2" />
<text x="1563" y="837.7" font-size="14" text-anchor="middle" dominant-baseline="central" font-weight="normal" fill="#5a3a00" font-family="'Liberation Sans', sans-serif" >2</text>
<text x="1563" y="854" font-size="14" text-anchor="middle" dominant-baseline="central" font-weight="normal" fill="#5a3a00" font-family="'Liberation Sans', sans-serif" >3</text>
<text x="1563" y="870.7" font-size="14" text-anchor="middle" dominant-baseline="central" font-weight="normal" fill="#5a3a00" font-family="'Liberation Sans', sans-serif" >5</text>
<rect x="1534.8" y="879" width="53.6" height="16.8" fill="#fff" stroke="#111" stroke-width="2.2" />
<line x1="1556.1" y1="883.9" x2="1567.1" y2="890.9" stroke="#555" stroke-width="1.2" />
<line x1="1556.1" y1="890.9" x2="1567.1" y2="883.9" stroke="#555" stroke-width="1.2" />
<rect x="1534.8" y="895.8" width="53.6" height="16.7" fill="#fff" stroke="#111" stroke-width="2.2" />
<line x1="1556.1" y1="900.65" x2="1567.1" y2="907.65" stroke="#555" stroke-width="1.2" />
<line x1="1556.1" y1="907.65" x2="1567.1" y2="900.65" stroke="#555" stroke-width="1.2" />
<rect x="1534.8" y="912.5" width="53.6" height="16.1" fill="#fff" stroke="#111" stroke-width="2.2" />
<line x1="1556.1" y1="917.05" x2="1567.1" y2="924.05" stroke="#555" stroke-width="1.2" />
<line x1="1556.1" y1="924.05" x2="1567.1" y2="917.05" stroke="#555" stroke-width="1.2" />
<rect x="1589.3" y="814.5" width="18.4" height="41.7" fill="#fff" stroke="#111" stroke-width="2.2" />
<line x1="1594" y1="831" x2="1603" y2="839" stroke="#555" stroke-width="1.2" />
<line x1="1594" y1="839" x2="1603" y2="831" stroke="#555" stroke-width="1.2" />
<rect x="1589.3" y="887.8" width="18.4" height="40.8" fill="#fff" stroke="#111" stroke-width="2.2" />
<line x1="1594" y1="904" x2="1603" y2="912" stroke="#555" stroke-width="1.2" />
<line x1="1594" y1="912" x2="1603" y2="904" stroke="#555" stroke-width="1.2" />
<rect x="1552.4" y="928.6" width="54.5" height="17" fill="#fff" stroke="#111" stroke-width="2.2" />
<line x1="1574.1" y1="933.6" x2="1585.1" y2="940.6" stroke="#555" stroke-width="1.2" />
<line x1="1574.1" y1="940.6" x2="1585.1" y2="933.6" stroke="#555" stroke-width="1.2" />
<rect x="1552.4" y="945.6" width="54.5" height="15.9" fill="#fff" stroke="#111" stroke-width="2.2" />
<line x1="1574.1" y1="950.05" x2="1585.1" y2="957.05" stroke="#555" stroke-width="1.2" />
<line x1="1574.1" y1="957.05" x2="1585.1" y2="950.05" stroke="#555" stroke-width="1.2" />
<rect x="1552.4" y="961.5" width="54.5" height="15.5" fill="#fff" stroke="#111" stroke-width="2.2" />
<line x1="1574.1" y1="965.75" x2="1585.1" y2="972.75" stroke="#555" stroke-width="1.2" />
<line x1="1574.1" y1="972.75" x2="1585.1" y2="965.75" stroke="#555" stroke-width="1.2" />
<rect x="1552.4" y="977" width="54.5" height="16.7" fill="#fff" stroke="#111" stroke-width="2.2" />
<line x1="1574.1" y1="981.85" x2="1585.1" y2="988.85" stroke="#555" stroke-width="1.2" />
<line x1="1574.1" y1="988.85" x2="1585.1" y2="981.85" stroke="#555" stroke-width="1.2" />
<rect x="1607.7" y="952.3" width="17.6" height="41.4" fill="#fff" stroke="#111" stroke-width="2.2" />
<line x1="1612" y1="969" x2="1621" y2="977" stroke="#555" stroke-width="1.2" />
<line x1="1612" y1="977" x2="1621" y2="969" stroke="#555" stroke-width="1.2" />
<rect x="1625.3" y="952.3" width="17.1" height="41.4" fill="#fff" stroke="#111" stroke-width="2.2" />
<line x1="1629.3" y1="969" x2="1638.3" y2="977" stroke="#555" stroke-width="1.2" />
<line x1="1629.3" y1="977" x2="1638.3" y2="969" stroke="#555" stroke-width="1.2" />
<line x1="1643" y1="814.5" x2="1643" y2="994.5" stroke="#111" stroke-width="2.2" />
<rect x="1643.8" y="814.5" width="54.5" height="16.29" fill="#fff" stroke="#111" stroke-width="2.2" />
<line x1="1665.5" y1="819.15" x2="1676.5" y2="826.15" stroke="#555" stroke-width="1.2" />
<line x1="1665.5" y1="826.15" x2="1676.5" y2="819.15" stroke="#555" stroke-width="1.2" />
<rect x="1643.8" y="830.79" width="54.5" height="16.29" fill="#fff" stroke="#111" stroke-width="2.2" />
<line x1="1665.5" y1="835.44" x2="1676.5" y2="842.44" stroke="#555" stroke-width="1.2" />
<line x1="1665.5" y1="842.44" x2="1676.5" y2="835.44" stroke="#555" stroke-width="1.2" />
<rect x="1643.8" y="847.08" width="54.5" height="16.29" fill="#fff" stroke="#111" stroke-width="2.2" />
<line x1="1665.5" y1="851.73" x2="1676.5" y2="858.73" stroke="#555" stroke-width="1.2" />
<line x1="1665.5" y1="858.73" x2="1676.5" y2="851.73" stroke="#555" stroke-width="1.2" />
<rect x="1643.8" y="863.37" width="54.5" height="16.29" fill="#fff" stroke="#111" stroke-width="2.2" />
<line x1="1665.5" y1="868.02" x2="1676.5" y2="875.02" stroke="#555" stroke-width="1.2" />
<line x1="1665.5" y1="875.02" x2="1676.5" y2="868.02" stroke="#555" stroke-width="1.2" />
<rect x="1643.8" y="879.66" width="54.5" height="16.29" fill="#fff" stroke="#111" stroke-width="2.2" />
<line x1="1665.5" y1="884.31" x2="1676.5" y2="891.31" stroke="#555" stroke-width="1.2" />
<line x1="1665.5" y1="891.31" x2="1676.5" y2="884.31" stroke="#555" stroke-width="1.2" />
<rect x="1643.8" y="895.95" width="54.5" height="16.29" fill="#fff" stroke="#111" stroke-width="2.2" />
<line x1="1665.5" y1="900.6" x2="1676.5" y2="907.6" stroke="#555" stroke-width="1.2" />
<line x1="1665.5" y1="907.6" x2="1676.5" y2="900.6" stroke="#555" stroke-width="1.2" />
<rect x="1643.8" y="912.25" width="54.5" height="16.29" fill="#fff" stroke="#111" stroke-width="2.2" />
<line x1="1665.5" y1="916.89" x2="1676.5" y2="923.89" stroke="#555" stroke-width="1.2" />
<line x1="1665.5" y1="923.89" x2="1676.5" y2="916.89" stroke="#555" stroke-width="1.2" />
<rect x="1643.8" y="928.54" width="54.5" height="16.29" fill="#fff" stroke="#111" stroke-width="2.2" />
<line x1="1665.5" y1="933.18" x2="1676.5" y2="940.18" stroke="#555" stroke-width="1.2" />
<line x1="1665.5" y1="940.18" x2="1676.5" y2="933.18" stroke="#555" stroke-width="1.2" />
<rect x="1643.8" y="944.83" width="54.5" height="16.29" fill="#fff" stroke="#111" stroke-width="2.2" />
<line x1="1665.5" y1="949.47" x2="1676.5" y2="956.47" stroke="#555" stroke-width="1.2" />
<line x1="1665.5" y1="956.47" x2="1676.5" y2="949.47" stroke="#555" stroke-width="1.2" />
<rect x="1643.8" y="961.12" width="54.5" height="16.29" fill="#fff" stroke="#111" stroke-width="2.2" />
<line x1="1665.5" y1="965.76" x2="1676.5" y2="972.76" stroke="#555" stroke-width="1.2" />
<line x1="1665.5" y1="972.76" x2="1676.5" y2="965.76" stroke="#555" stroke-width="1.2" />
<rect x="1643.8" y="977.41" width="54.5" height="16.29" fill="#fff" stroke="#111" stroke-width="2.2" />
<line x1="1665.5" y1="982.05" x2="1676.5" y2="989.05" stroke="#555" stroke-width="1.2" />
<line x1="1665.5" y1="989.05" x2="1676.5" y2="982.05" stroke="#555" stroke-width="1.2" />
<line x1="1470" y1="993.7" x2="1698.3" y2="993.7" stroke="#111" stroke-width="2.4" />
<rect x="1025.5" y="1100.5" width="136.5" height="91.5" fill="#fff" stroke="#111" stroke-width="2.2" />
<text x="1094" y="1129" font-size="22" text-anchor="middle" dominant-baseline="central" font-weight="bold" fill="#111" font-family="'Liberation Sans', sans-serif" textLength="86" lengthAdjust="spacingAndGlyphs" stroke="#111" stroke-width="0.44" >協栄内科</text>
<text x="1094" y="1161" font-size="22" text-anchor="middle" dominant-baseline="central" font-weight="bold" fill="#111" font-family="'Liberation Sans', sans-serif" textLength="64" lengthAdjust="spacingAndGlyphs" stroke="#111" stroke-width="0.44" >駐車場</text>
<rect x="1531.5" y="1101.4" width="168.1" height="90.8" fill="#fff" stroke="#111" stroke-width="2.2" />
<text x="1615.4" y="1145.5" font-size="23" text-anchor="middle" dominant-baseline="central" font-weight="bold" fill="#111" font-family="'Liberation Sans', sans-serif" textLength="118" lengthAdjust="spacingAndGlyphs" stroke="#111" stroke-width="0.46" >マンション</text>
<rect x="132.5" y="1261" width="121.5" height="84.5" fill="#fff" stroke="#111" stroke-width="2.2" />
<text x="193" y="1303" font-size="25" text-anchor="middle" dominant-baseline="central" font-weight="bold" fill="#111" font-family="'Liberation Sans', sans-serif" textLength="72" lengthAdjust="spacingAndGlyphs" >YANASE</text>
<rect x="584" y="1263" width="145.5" height="91" fill="#fff" stroke="#111" stroke-width="2.2" />
<text x="657" y="1293.5" font-size="19" text-anchor="middle" dominant-baseline="central" font-weight="bold" fill="#111" font-family="'Liberation Sans', sans-serif" textLength="80" lengthAdjust="spacingAndGlyphs" stroke="#111" stroke-width="0.38" >株式会社</text>
<text x="657" y="1322" font-size="19" text-anchor="middle" dominant-baseline="central" font-weight="bold" fill="#111" font-family="'Liberation Sans', sans-serif" textLength="39" lengthAdjust="spacingAndGlyphs" stroke="#111" stroke-width="0.38" >国際</text>
<rect x="972" y="1263" width="145.5" height="83" fill="#fff" stroke="#111" stroke-width="2.2" />
<text x="1044.5" y="1304" font-size="24" text-anchor="middle" dominant-baseline="central" font-weight="bold" fill="#111" font-family="'Liberation Sans', sans-serif" textLength="94" lengthAdjust="spacingAndGlyphs" stroke="#111" stroke-width="0.48" >協栄内科</text>
<rect x="1742.6" y="1259.6" width="168.9" height="117.6" fill="#ffc000" stroke="#111" stroke-width="2.4" />
<text x="1824" y="1285.8" font-size="28" text-anchor="middle" dominant-baseline="central" font-weight="bold" fill="#111" font-family="'Liberation Sans', sans-serif" textLength="143" lengthAdjust="spacingAndGlyphs" stroke="#111" stroke-width="0.56" >第６駐車場</text>
<rect x="1742.6" y="1344.6" width="15.3" height="32.6" fill="#fff" stroke="#111" stroke-width="2.2" />
<line x1="1744.6" y1="1355.5" x2="1755.9" y2="1366.5" stroke="#222" stroke-width="1.4" />
<line x1="1744.6" y1="1366.5" x2="1755.9" y2="1355.5" stroke="#222" stroke-width="1.4" />
<rect x="1757.9" y="1344.6" width="16.8" height="32.6" fill="#fff" stroke="#111" stroke-width="2.2" />
<line x1="1759.9" y1="1355.5" x2="1772.7" y2="1366.5" stroke="#222" stroke-width="1.4" />
<line x1="1759.9" y1="1366.5" x2="1772.7" y2="1355.5" stroke="#222" stroke-width="1.4" />
<rect x="1774.7" y="1344.6" width="18.5" height="32.6" fill="#fff" stroke="#111" stroke-width="2.2" />
<line x1="1776.7" y1="1355.5" x2="1791.2" y2="1366.5" stroke="#222" stroke-width="1.4" />
<line x1="1776.7" y1="1366.5" x2="1791.2" y2="1355.5" stroke="#222" stroke-width="1.4" />
<rect x="1793.2" y="1344.6" width="16.8" height="32.6" fill="#fff" stroke="#111" stroke-width="2.2" />
<line x1="1795.2" y1="1355.5" x2="1808" y2="1366.5" stroke="#222" stroke-width="1.4" />
<line x1="1795.2" y1="1366.5" x2="1808" y2="1355.5" stroke="#222" stroke-width="1.4" />
<rect x="1810" y="1344.6" width="16" height="32.6" fill="#fff" stroke="#111" stroke-width="2.2" />
<line x1="1812" y1="1355.5" x2="1824" y2="1366.5" stroke="#222" stroke-width="1.4" />
<line x1="1812" y1="1366.5" x2="1824" y2="1355.5" stroke="#222" stroke-width="1.4" />
<g transform="translate(1814,1308.5) scale(1.01,0.97)"><rect x="0" y="0" width="45" height="43" rx="2" fill="#1683d8"/><path d="M14.5,4.5 H27 C33,4.5 35.5,9 35.5,14.5 C35.5,20.5 31.5,25 25,25 H23 V36.5 H14.5 Z" fill="#f4fbff"/><circle cx="25" cy="14.5" r="3.6" fill="#1683d8"/></g>
<g transform="translate(1885,784) rotate(31)"><path d="M-28.5,-32.5 H35.5 V-21.5 Q35.5,-14.5 28.5,-14.5 H-35.5 V-25.5 Q-35.5,-32.5 -28.5,-32.5 Z" fill="#25b03a"/><path d="M-29,13.5 H36 V27 Q36,34 29,34 H-36 V20.5 Q-36,13.5 -29,13.5 Z" fill="#0a78d0"/><text x="0" y="-0.5" font-size="12" font-weight="bold" text-anchor="middle" dominant-baseline="central" fill="#3d6f9c" font-family="Liberation Sans, sans-serif" textLength="57" lengthAdjust="spacingAndGlyphs">FamilyMart</text></g>
<path d="M1822.2,78.1 Q1856.5,64 1891.5,78.1 Q1879.5,104.8 1891.5,131.6 Q1856.8,144 1822.7,131.6 Q1836,104.8 1822.2,78.1 Z" fill="#a9dcf6" stroke="#8fb0c8" stroke-width="1.2"/>
<path d="M1826,81 Q1856.5,68.5 1887.5,81 Q1876,104.8 1887.5,128.8 Q1856.8,140 1826.5,128.8 Q1839.5,104.8 1826,81 Z" fill="#1b76c6"/>
<path d="M1852.5,91.5 H1862.5 V96 Q1866.3,98 1866.3,102 V120.5 Q1866.3,123.2 1863.5,123.2 H1851.2 Q1848.4,123.2 1848.4,120.5 V102 Q1848.4,98 1852.5,96 Z" fill="#e8f8ff"/>
<rect x="1850.8" y="88.4" width="14" height="4.5" rx="2" fill="none" stroke="#a9dcf6" stroke-width="1.4"/>
<text x="1857.3" y="83.8" font-size="8.5" text-anchor="middle" dominant-baseline="central" font-weight="bold" fill="#a9dcf6" font-family="'Liberation Sans', sans-serif" textLength="48" lengthAdjust="spacingAndGlyphs" >LAWSON</text>
<text x="1857.3" y="128.3" font-size="8.5" text-anchor="middle" dominant-baseline="central" font-weight="bold" fill="#a9dcf6" font-family="'Liberation Sans', sans-serif" textLength="50" lengthAdjust="spacingAndGlyphs" >STATION</text>
<circle cx="1941.5" cy="90.8" r="27.3" fill="#e2f4ff" stroke="#123d62" stroke-width="1.8"/>
<polygon points="1951.43,92.02 1960.59,109.89 1942.72,100.73 1941.5,90.8" fill="#123d62" />
<polygon points="1940.28,100.73 1922.41,109.89 1931.57,92.02 1941.5,90.8" fill="#123d62" />
<polygon points="1931.57,89.58 1922.41,71.71 1940.28,80.87 1941.5,90.8" fill="#123d62" />
<polygon points="1942.72,80.87 1960.59,71.71 1951.43,89.58 1941.5,90.8" fill="#123d62" />
<polygon points="1941.5,90.8 1933.37,82.67 1941.5,55.8" fill="#e8f7ff" stroke="#123d62" stroke-width="1.3" stroke-linejoin="round"/>
<polygon points="1941.5,90.8 1941.5,55.8 1949.63,82.67" fill="#123d62" stroke="#123d62" stroke-width="1.3" stroke-linejoin="round"/>
<polygon points="1941.5,90.8 1949.63,82.67 1977.7,90.8" fill="#e8f7ff" stroke="#123d62" stroke-width="1.3" stroke-linejoin="round"/>
<polygon points="1941.5,90.8 1977.7,90.8 1949.63,98.93" fill="#123d62" stroke="#123d62" stroke-width="1.3" stroke-linejoin="round"/>
<polygon points="1941.5,90.8 1949.63,98.93 1941.5,124.6" fill="#e8f7ff" stroke="#123d62" stroke-width="1.3" stroke-linejoin="round"/>
<polygon points="1941.5,90.8 1941.5,124.6 1933.37,98.93" fill="#123d62" stroke="#123d62" stroke-width="1.3" stroke-linejoin="round"/>
<polygon points="1941.5,90.8 1933.37,98.93 1905,90.8" fill="#e8f7ff" stroke="#123d62" stroke-width="1.3" stroke-linejoin="round"/>
<polygon points="1941.5,90.8 1905,90.8 1933.37,82.67" fill="#123d62" stroke="#123d62" stroke-width="1.3" stroke-linejoin="round"/>
<text x="1941" y="47.3" font-size="16" text-anchor="middle" dominant-baseline="central" font-weight="bold" fill="#123d62" font-family="'Liberation Sans', sans-serif" textLength="13" lengthAdjust="spacingAndGlyphs" font-weight="900" stroke="#123d62" stroke-width="1">N</text>
<g transform="translate(102.8,169.3) rotate(0)"><rect x="-42.7" y="-14.6" width="85.4" height="29.2" rx="14.6" fill="#9c9c9c"/><ellipse cx="-25.8" cy="1.2" rx="11.3" ry="10.8" fill="#b4e2f8"/><ellipse cx="-25.8" cy="1.2" rx="9.4" ry="8.2" fill="#1386cf"/><circle cx="-30" cy="-2" r="2.3" fill="#7fe0ff"/><ellipse cx="0" cy="1.2" rx="11.3" ry="10.8" fill="#ffd9a0"/><ellipse cx="0" cy="1.2" rx="9.4" ry="8.2" fill="#ef9410"/><circle cx="-4.2" cy="-2" r="2.3" fill="#ffcc60"/><ellipse cx="25.8" cy="1.2" rx="11.3" ry="10.8" fill="#ffc4c8"/><ellipse cx="25.8" cy="1.2" rx="9.4" ry="8.2" fill="#de3540"/><circle cx="21.6" cy="-2" r="2.3" fill="#ff9090"/></g>
<g transform="translate(104,313.5) rotate(0)"><rect x="-42.7" y="-14.6" width="85.4" height="29.2" rx="14.6" fill="#9c9c9c"/><ellipse cx="-25.8" cy="1.2" rx="11.3" ry="10.8" fill="#b4e2f8"/><ellipse cx="-25.8" cy="1.2" rx="9.4" ry="8.2" fill="#1386cf"/><circle cx="-30" cy="-2" r="2.3" fill="#7fe0ff"/><ellipse cx="0" cy="1.2" rx="11.3" ry="10.8" fill="#ffd9a0"/><ellipse cx="0" cy="1.2" rx="9.4" ry="8.2" fill="#ef9410"/><circle cx="-4.2" cy="-2" r="2.3" fill="#ffcc60"/><ellipse cx="25.8" cy="1.2" rx="11.3" ry="10.8" fill="#ffc4c8"/><ellipse cx="25.8" cy="1.2" rx="9.4" ry="8.2" fill="#de3540"/><circle cx="21.6" cy="-2" r="2.3" fill="#ff9090"/></g>
<g transform="translate(950.8,316.8) rotate(0)"><rect x="-42.7" y="-14.6" width="85.4" height="29.2" rx="14.6" fill="#9c9c9c"/><ellipse cx="-25.8" cy="1.2" rx="11.3" ry="10.8" fill="#b4e2f8"/><ellipse cx="-25.8" cy="1.2" rx="9.4" ry="8.2" fill="#1386cf"/><circle cx="-30" cy="-2" r="2.3" fill="#7fe0ff"/><ellipse cx="0" cy="1.2" rx="11.3" ry="10.8" fill="#ffd9a0"/><ellipse cx="0" cy="1.2" rx="9.4" ry="8.2" fill="#ef9410"/><circle cx="-4.2" cy="-2" r="2.3" fill="#ffcc60"/><ellipse cx="25.8" cy="1.2" rx="11.3" ry="10.8" fill="#ffc4c8"/><ellipse cx="25.8" cy="1.2" rx="9.4" ry="8.2" fill="#de3540"/><circle cx="21.6" cy="-2" r="2.3" fill="#ff9090"/></g>
<g transform="translate(1783,169.7) rotate(0)"><rect x="-42.7" y="-14.6" width="85.4" height="29.2" rx="14.6" fill="#9c9c9c"/><ellipse cx="-25.8" cy="1.2" rx="11.3" ry="10.8" fill="#b4e2f8"/><ellipse cx="-25.8" cy="1.2" rx="9.4" ry="8.2" fill="#1386cf"/><circle cx="-30" cy="-2" r="2.3" fill="#7fe0ff"/><ellipse cx="0" cy="1.2" rx="11.3" ry="10.8" fill="#ffd9a0"/><ellipse cx="0" cy="1.2" rx="9.4" ry="8.2" fill="#ef9410"/><circle cx="-4.2" cy="-2" r="2.3" fill="#ffcc60"/><ellipse cx="25.8" cy="1.2" rx="11.3" ry="10.8" fill="#ffc4c8"/><ellipse cx="25.8" cy="1.2" rx="9.4" ry="8.2" fill="#de3540"/><circle cx="21.6" cy="-2" r="2.3" fill="#ff9090"/></g>
<g transform="translate(105,1224.5) rotate(0)"><rect x="-42.7" y="-14.6" width="85.4" height="29.2" rx="14.6" fill="#9c9c9c"/><ellipse cx="-25.8" cy="1.2" rx="11.3" ry="10.8" fill="#b4e2f8"/><ellipse cx="-25.8" cy="1.2" rx="9.4" ry="8.2" fill="#1386cf"/><circle cx="-30" cy="-2" r="2.3" fill="#7fe0ff"/><ellipse cx="0" cy="1.2" rx="11.3" ry="10.8" fill="#ffd9a0"/><ellipse cx="0" cy="1.2" rx="9.4" ry="8.2" fill="#ef9410"/><circle cx="-4.2" cy="-2" r="2.3" fill="#ffcc60"/><ellipse cx="25.8" cy="1.2" rx="11.3" ry="10.8" fill="#ffc4c8"/><ellipse cx="25.8" cy="1.2" rx="9.4" ry="8.2" fill="#de3540"/><circle cx="21.6" cy="-2" r="2.3" fill="#ff9090"/></g>
<g transform="translate(1721,1232.4) rotate(0)"><rect x="-42.7" y="-14.6" width="85.4" height="29.2" rx="14.6" fill="#9c9c9c"/><ellipse cx="-25.8" cy="1.2" rx="11.3" ry="10.8" fill="#b4e2f8"/><ellipse cx="-25.8" cy="1.2" rx="9.4" ry="8.2" fill="#1386cf"/><circle cx="-30" cy="-2" r="2.3" fill="#7fe0ff"/><ellipse cx="0" cy="1.2" rx="11.3" ry="10.8" fill="#ffd9a0"/><ellipse cx="0" cy="1.2" rx="9.4" ry="8.2" fill="#ef9410"/><circle cx="-4.2" cy="-2" r="2.3" fill="#ffcc60"/><ellipse cx="25.8" cy="1.2" rx="11.3" ry="10.8" fill="#ffc4c8"/><ellipse cx="25.8" cy="1.2" rx="9.4" ry="8.2" fill="#de3540"/><circle cx="21.6" cy="-2" r="2.3" fill="#ff9090"/></g>
<g transform="translate(1705.5,585.3) rotate(32.6)"><rect x="-42.7" y="-14.6" width="85.4" height="29.2" rx="14.6" fill="#9c9c9c"/><ellipse cx="-25.8" cy="1.2" rx="11.3" ry="10.8" fill="#b4e2f8"/><ellipse cx="-25.8" cy="1.2" rx="9.4" ry="8.2" fill="#1386cf"/><circle cx="-30" cy="-2" r="2.3" fill="#7fe0ff"/><ellipse cx="0" cy="1.2" rx="11.3" ry="10.8" fill="#ffd9a0"/><ellipse cx="0" cy="1.2" rx="9.4" ry="8.2" fill="#ef9410"/><circle cx="-4.2" cy="-2" r="2.3" fill="#ffcc60"/><ellipse cx="25.8" cy="1.2" rx="11.3" ry="10.8" fill="#ffc4c8"/><ellipse cx="25.8" cy="1.2" rx="9.4" ry="8.2" fill="#de3540"/><circle cx="21.6" cy="-2" r="2.3" fill="#ff9090"/></g>
<polygon points="581.7,789.45 521.2,789.45 521.2,778.95 500.2,794.2 521.2,809.45 521.2,798.95 581.7,798.95" fill="#111" />
<polygon points="882,787.25 821,787.25 821,776.75 800,792 821,807.25 821,796.75 882,796.75" fill="#111" />
<polygon points="1085,787.25 1023.5,787.25 1023.5,776.75 1002.5,792 1023.5,807.25 1023.5,796.75 1085,796.75" fill="#111" />
<polygon points="1275,787.25 1206,787.25 1206,776.75 1185,792 1206,807.25 1206,796.75 1275,796.75" fill="#111" />
<polygon points="1633,787.25 1572.5,787.25 1572.5,776.75 1551.5,792 1572.5,807.25 1572.5,796.75 1633,796.75" fill="#111" />
<polygon points="459.5,1073.75 527,1073.75 527,1084.25 548,1069 527,1053.75 527,1064.25 459.5,1064.25" fill="#111" />
<polygon points="791,1073.75 852,1073.75 852,1084.25 873,1069 852,1053.75 852,1064.25 791,1064.25" fill="#111" />
<polygon points="1010,1070.75 1071,1070.75 1071,1081.25 1092,1066 1071,1050.75 1071,1061.25 1010,1061.25" fill="#111" />
<polygon points="1205,1073.75 1274,1073.75 1274,1084.25 1295,1069 1274,1053.75 1274,1064.25 1205,1064.25" fill="#111" />
<polygon points="274.6,739 274.6,661 284.1,661 270.6,642 257.1,661 266.6,661 266.6,739" fill="#111" />
<polygon points="276,976 276,898 285.5,898 272,879 258.5,898 268,898 268,976" fill="#111" />
<polygon points="275,1130 275,1089 284.5,1089 271,1070 257.5,1089 267,1089 267,1130" fill="#111" />
<polygon points="950.2,670 950.2,739 940.7,739 954.2,758 967.7,739 958.2,739 958.2,670" fill="#111" />
<polygon points="948,860 948,937 938.5,937 952,956 965.5,937 956,937 956,860" fill="#111" />
<polygon points="950.5,1076 950.5,1118.5 941,1118.5 954.5,1137.5 968,1118.5 958.5,1118.5 958.5,1076" fill="#111" />
<polygon points="1143,960.5 1143,885 1152.5,885 1139,866 1125.5,885 1135,885 1135,960.5" fill="#111" />
<polygon points="1367,664 1367,585 1376.5,585 1363,566 1349.5,585 1359,585 1359,664" fill="#111" />
<polygon points="1370.5,955 1370.5,876.5 1380,876.5 1366.5,857.5 1353,876.5 1362.5,876.5 1362.5,955" fill="#111" />
<polygon points="1369.5,1139 1369.5,1100 1379,1100 1365.5,1081 1352,1100 1361.5,1100 1361.5,1139" fill="#111" />
<polygon points="704.5,878 704.5,912.5 697.25,912.5 708,927.5 718.75,912.5 711.5,912.5 711.5,878" fill="#111" />
<polygon points="1789.75,436.5 1789.75,356.5 1796.5,356.5 1786.5,341.5 1776.5,356.5 1783.25,356.5 1783.25,436.5" fill="#111" />
<rect x="270.6" y="322.2" width="7.8" height="45.2" fill="#111" />
<rect x="251" y="322.2" width="27.4" height="6.5" fill="#111" />
<polygon points="237,325.3 251.3,313.7 251.3,336.9" fill="#111" />
<rect x="514.2" y="332.6" width="36.1" height="5.7" fill="#111" />
<rect x="514.2" y="332.6" width="6.4" height="20.4" fill="#111" />
<polygon points="508.8,352.3 526.1,352.3 517.5,363.7" fill="#111" />
<rect x="515.7" y="542" width="7" height="36.9" fill="#111" />
<rect x="506" y="573.1" width="16.7" height="5.8" fill="#111" />
<polygon points="496.8,576 506.6,568.5 506.6,583.4" fill="#111" />
<rect x="119.5" y="784.9" width="34" height="5.6" fill="#111" />
<rect x="119.5" y="784.9" width="6.2" height="17.6" fill="#111" />
<polygon points="114.9,802.1 130.5,802.1 122.4,812.5" fill="#111" />
<rect x="949.3" y="568.5" width="7.3" height="42.3" fill="#111" />
<rect x="949.3" y="603.1" width="27.2" height="7.7" fill="#111" />
<polygon points="976,596 976,617.8 990.4,607.2" fill="#111" />
<polyline points="1365.9,425.3 1385,389 1362.3,381.2" fill="none" stroke="#111" stroke-width="7.5" stroke-linejoin="miter"/>
<polygon points="1368.8,370.4 1358.7,390.6 1349.8,373" fill="#111" />
<text x="93" y="631" font-size="42" text-anchor="middle" dominant-baseline="central" font-weight="bold" fill="#111" font-family="'Liberation Sans', sans-serif" stroke="#111" stroke-width="0.84" >国</text>
<text x="93" y="675" font-size="42" text-anchor="middle" dominant-baseline="central" font-weight="bold" fill="#111" font-family="'Liberation Sans', sans-serif" stroke="#111" stroke-width="0.84" >道</text>
<text x="93" y="718" font-size="42" text-anchor="middle" dominant-baseline="central" font-weight="bold" fill="#111" font-family="'Liberation Sans', sans-serif" >5</text>
<text x="93" y="763" font-size="42" text-anchor="middle" dominant-baseline="central" font-weight="bold" fill="#111" font-family="'Liberation Sans', sans-serif" >5</text>
<text x="93" y="805" font-size="42" text-anchor="middle" dominant-baseline="central" font-weight="bold" fill="#111" font-family="'Liberation Sans', sans-serif" stroke="#111" stroke-width="0.84" >号</text>
<text x="93" y="850" font-size="42" text-anchor="middle" dominant-baseline="central" font-weight="bold" fill="#111" font-family="'Liberation Sans', sans-serif" stroke="#111" stroke-width="0.84" >線</text>
</svg></body></html>
